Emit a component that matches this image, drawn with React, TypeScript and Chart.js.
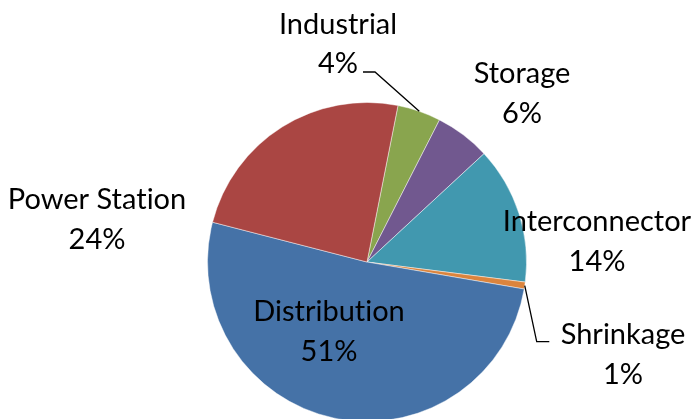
import React, { useEffect, useRef } from "react";
import { Chart, registerables } from "chart.js";

Chart.register(...registerables);

// ---- data ----
const categories = ["Industrial", "Storage", "Interconnector", "Shrinkage", "Distribution", "Power Station"];
const shares = [4.4, 5.6, 13.9, 0.7, 51.3, 24.1];
const sliceColors = ["#89A54E", "#71588F", "#4198AF", "#DB843D", "#4572A7", "#AA4643"];
const percentLabels = shares.map((v) => Math.round(v) + "%");

// ---- label layout (offsets from pie centre, px) ----
type Layout = { dx: number; dy: number; leader?: [number, number][] };
const labelLayout: Layout[] = [
  { dx: -29, dy: -228.5, leader: [[8, -190], [-4, -190]] },
  { dx: 155, dy: -179 },
  { dx: 230, dy: -31 },
  { dx: 256, dy: 82, leader: [[169.7, 79.7], [182.3, 79.7]] },
  { dx: -38, dy: 59 },
  { dx: -270, dy: -53 },
];
const LINE_GAP = 39.5;
const FONT = "29px Lato, Carlito, 'DejaVu Sans', sans-serif";

const labelPlugin = {
  id: "sliceLabels",
  afterDatasetsDraw(chart: any) {
    const ctx = chart.ctx as any;
    const meta = chart.getDatasetMeta(0);
    ctx.save();
    meta.data.forEach((arc: any, i: number) => {
      const p = arc.getProps(["x", "y", "startAngle", "endAngle", "outerRadius"], true);
      const L = labelLayout[i];
      if (L.leader) {
        const mid = (p.startAngle + p.endAngle) / 2;
        ctx.beginPath();
        ctx.moveTo(p.x + Math.cos(mid) * p.outerRadius, p.y + Math.sin(mid) * p.outerRadius);
        L.leader.forEach(([lx, ly]) => ctx.lineTo(p.x + lx, p.y + ly));
        ctx.strokeStyle = "#000";
        ctx.lineWidth = 1.3;
        ctx.stroke();
      }
      ctx.font = FONT;
      try {
        ctx.textRendering = "optimizeSpeed";
      } catch (e) {}
      ctx.fillStyle = "#000";
      ctx.textAlign = "center";
      ctx.textBaseline = "alphabetic";
      ctx.fillText(categories[i], p.x + L.dx, p.y + L.dy);
      ctx.fillText(percentLabels[i], p.x + L.dx, p.y + L.dy + LINE_GAP);
    });
    ctx.restore();
  },
};

export default function App() {
  const ref = useRef<HTMLCanvasElement | null>(null);
  useEffect(() => {
    document.body.style.margin = "0";
    const canvas = ref.current;
    if (!canvas) return;
    const chart = new Chart(canvas, {
      type: "pie",
      data: {
        labels: categories,
        datasets: [
          {
            data: shares,
            backgroundColor: sliceColors,
            borderColor: "rgba(255,255,255,0.45)",
            borderWidth: 1,
          },
        ],
      },
      options: {
        responsive: false,
        animation: false,
        rotation: 11.2,
        layout: { padding: { left: 207, right: 169, top: 102, bottom: 8 } },
        plugins: {
          legend: { display: false },
          tooltip: { enabled: false },
        },
      },
      plugins: [labelPlugin],
    });
    return () => chart.destroy();
  }, []);
  return (
    <div style={{ width: 696, height: 419, overflow: "hidden", background: "#fff" }}>
      <canvas ref={ref} width={696} height={430} style={{ display: "block" }} />
    </div>
  );
}
